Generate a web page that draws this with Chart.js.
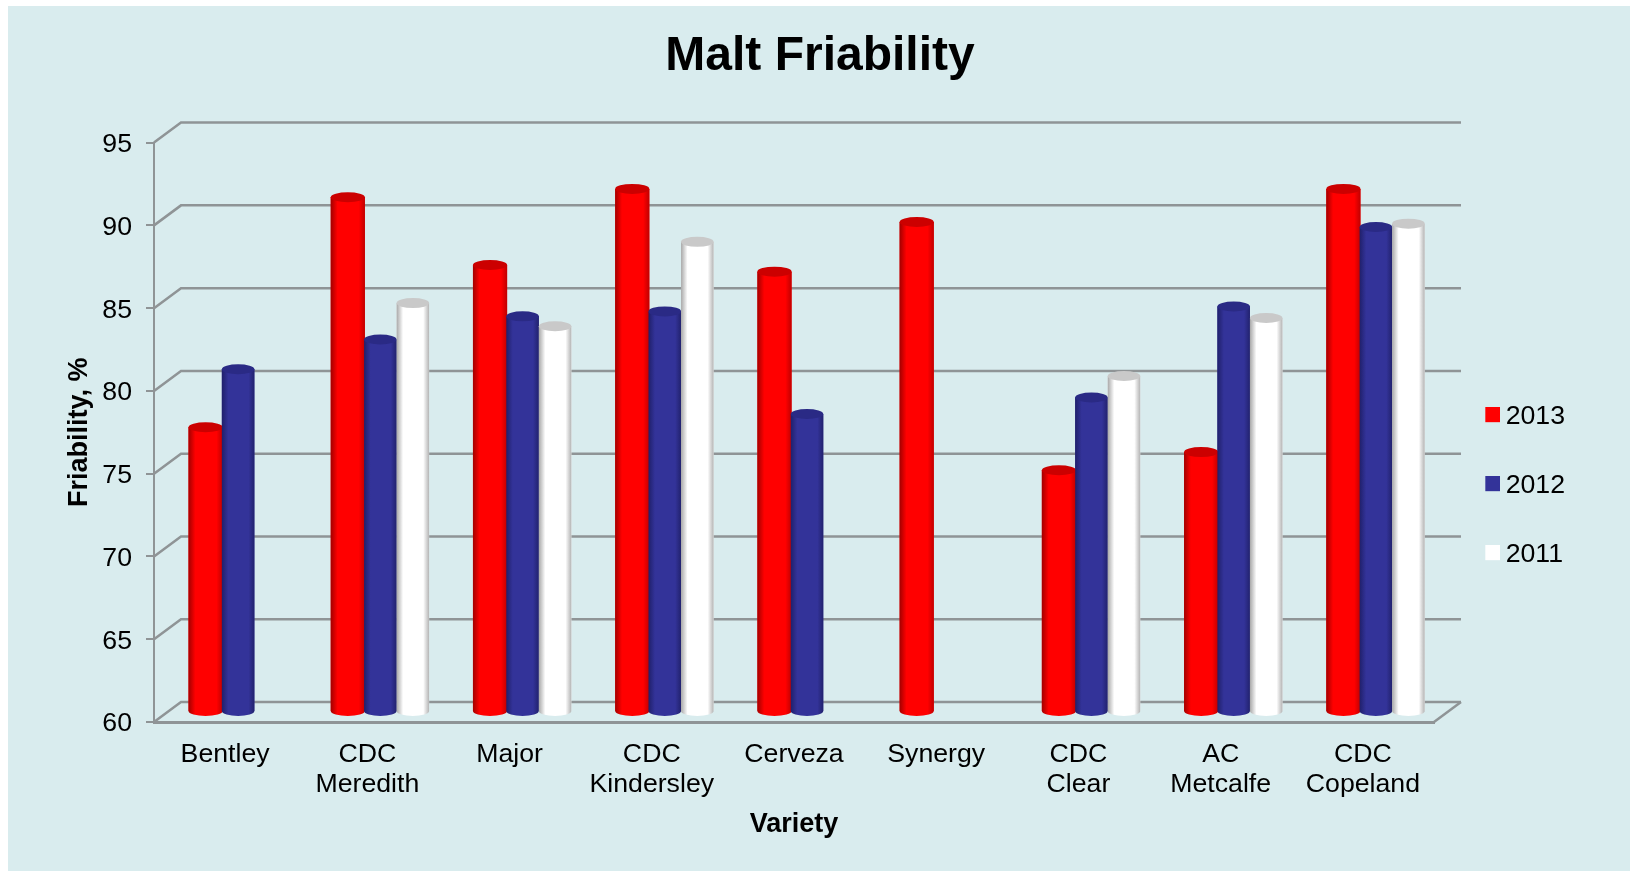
<!DOCTYPE html>
<html><head><meta charset="utf-8">
<style>html,body{margin:0;padding:0;background:#fff}canvas{display:block}</style>
<script src="https://cdn.jsdelivr.net/npm/chart.js@4"></script></head>
<body><div style="width:1630px;height:871px;position:relative"><canvas id="c"></canvas></div>
<script>
const categories=[['Bentley'],['CDC','Meredith'],['Major'],['CDC','Kindersley'],['Cerveza'],['Synergy'],['CDC','Clear'],['AC','Metcalfe'],['CDC','Copeland']];
const values2013=[77.2,91.1,87,91.6,86.6,89.6,74.6,75.7,91.6];
const values2012=[80.7,82.5,83.9,84.2,78,null,79,84.5,89.3];
const values2011=[null,84.7,83.3,88.4,null,null,80.3,83.8,89.5];
const FONT='"Liberation Sans", Arial, sans-serif';
const GRID='#8f9496';
const DX=27,DY=-20,BX=13,BY=-10,CAP=5;
const shades={
 '2013':{base:'#ff0000',edgeL:'#a30000',edgeR:'#c00000',cap:'#cc0000',pct:1.05},
 '2012':{base:'#333399',edgeL:'#20206b',edgeR:'#22226e',cap:'#2a2a85',pct:1},
 '2011':{base:'#ffffff',edgeL:'#a8a8a8',edgeR:'#b4b4b4',cap:'#c9c9c9',pct:1}
};
function swatch(color){
  const s=document.createElement('canvas');s.width=17;s.height=19;
  const g=s.getContext('2d');g.fillStyle=color;g.fillRect(2,0,15,15);return s;
}
const scene={
 id:'scene',
 afterLayout(chart){
  const l=chart.legend;
  l.left=1449;l.right=1625;l.top=361;l.bottom=860;
  chart.titleBlock.left=0;chart.titleBlock.right=1640;
 },
 beforeDraw(chart){
  const c=chart.ctx;c.save();
  c.fillStyle='#d9ecee';c.fillRect(8,6,1622,865);
  c.restore();
 },
 beforeDatasetsDraw(chart){
  const c=chart.ctx,y=chart.scales.y,a=chart.chartArea;
  c.save();c.strokeStyle=GRID;c.lineWidth=2.5;
  y.ticks.forEach(t=>{
   const p=y.getPixelForValue(t.value);
   c.beginPath();c.moveTo(a.left,p);c.lineTo(a.left+DX,p+DY);c.lineTo(a.right+DX,p+DY);c.stroke();
  });
  const p0=y.getPixelForValue(y.min);
  c.beginPath();c.moveTo(a.right,p0);c.lineTo(a.right+DX,p0+DY);c.stroke();
  c.restore();
  c.save();c.translate(BX,BY);
 },
 afterDatasetsDraw(chart){
  const c=chart.ctx;
  chart.data.datasets.forEach((d,i)=>{
   const s=shades[d.label];
   chart.getDatasetMeta(i).data.forEach((b,j)=>{
    if(d.data[j]==null)return;
    const w=b.width,x0=b.x-w/2,rx=w/2;
    const g=c.createLinearGradient(x0,0,x0+w,0);
    g.addColorStop(0,s.edgeL);g.addColorStop(.2,s.base);g.addColorStop(.82,s.base);g.addColorStop(1,s.edgeR);
    c.save();
    c.fillStyle=g;
    c.beginPath();
    c.moveTo(x0,b.y);c.lineTo(x0,b.base);
    c.ellipse(b.x,b.base,rx,CAP,0,Math.PI,0,true);
    c.lineTo(x0+w,b.y);c.closePath();c.fill();
    c.fillStyle=s.cap;
    c.beginPath();c.ellipse(b.x,b.y,rx,CAP,0,0,Math.PI*2);c.fill();
    c.restore();
   });
  });
  c.restore();
 }
};
function ds(label,data){return {label,data,backgroundColor:shades[label].base,borderWidth:0,clip:false,base:60,barPercentage:shades[label].pct};}
new Chart(document.getElementById('c'),{
 type:'bar',
 data:{labels:categories,datasets:[ds('2013',values2013),ds('2012',values2012),ds('2011',values2011)]},
 plugins:[scene],
 options:{
  responsive:true,maintainAspectRatio:false,animation:false,
  layout:{padding:{left:0,right:196,top:0,bottom:0}},
  datasets:{bar:{categoryPercentage:0.686}},
  plugins:{
   tooltip:{enabled:false},
   title:{display:true,text:'Malt Friability',color:'#000',font:{family:FONT,size:48,weight:'bold',lineHeight:1.2},padding:{top:28,bottom:57}},
   legend:{position:'chartArea',align:'start',
    labels:{color:'#000',font:{family:FONT,size:26.7},boxWidth:1,boxHeight:15,padding:42.3,usePointStyle:true,
     generateLabels(chart){return chart.data.datasets.map((d,i)=>({text:d.label,datasetIndex:i,pointStyle:swatch(d.backgroundColor),fontColor:'#000',hidden:false,lineWidth:0,strokeStyle:'transparent',fillStyle:d.backgroundColor}));}
    }}
  },
  scales:{
   x:{type:'category',offset:true,
    afterFit(s){s.height=149;},
    grid:{display:true,drawOnChartArea:false,drawTicks:false,color:GRID},
    border:{display:true,color:GRID,width:3},
    ticks:{color:'#000',font:{family:FONT,size:26.7,lineHeight:1.15},maxRotation:0,minRotation:0,autoSkip:false,padding:17},
    title:{display:true,text:'Variety',color:'#000',font:{family:FONT,size:27,weight:'bold'},padding:{top:0,bottom:30}}
   },
   y:{type:'linear',min:60,max:95,
    afterFit(s){s.width=154;},
    afterBuildTicks(s){s.ticks=[60,65,70,75,80,85,90,95].map(v=>({value:v}));},
    grid:{display:true,drawOnChartArea:false,drawTicks:true,tickLength:8,color:GRID,lineWidth:2},
    border:{display:true,color:GRID,width:2},
    ticks:{color:'#000',font:{family:FONT,size:26.7},padding:14,labelOffset:2},
    title:{display:true,text:'Friability, %',color:'#000',font:{family:FONT,size:27,weight:'bold'},padding:{top:63,bottom:0}}
   }
  }
 }
});
</script></body></html>
